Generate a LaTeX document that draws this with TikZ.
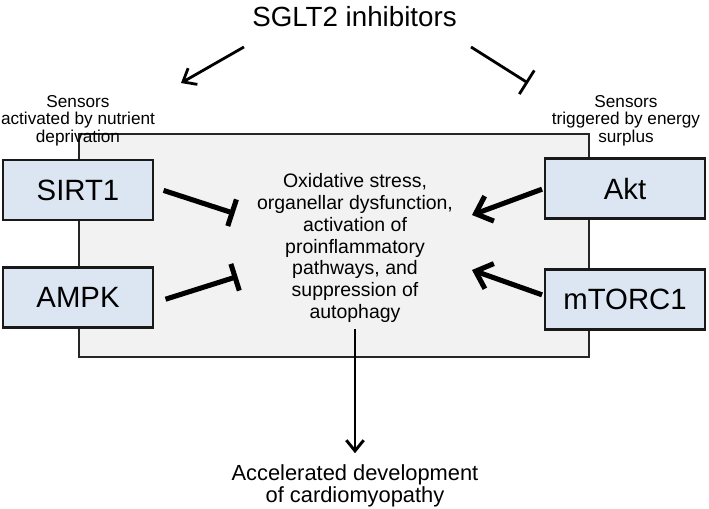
\documentclass[tikz,border=0pt]{standalone}
\usepackage{fontspec}
\setmainfont{Liberation Sans}
\usetikzlibrary{arrows.meta}

\definecolor{sensorblue}{HTML}{DCE6F2}
\definecolor{panelgray}{HTML}{F2F2F2}

\begin{document}
\begin{tikzpicture}[x=0.75pt,y=-0.75pt,
  sensor/.style={draw=black!90,line width=1.6pt,fill=sensorblue,minimum height=45pt,
    inner sep=0pt,font=\fontsize{22}{26}\selectfont},
  note/.style={align=center,inner sep=0pt,font=\fontsize{12.9}{13.1}\selectfont},
  blocker/.style={line width=3.8pt,-{Bar[width=21pt]}},
  driver/.style={line width=3.8pt,-{Straight Barb[length=11pt,width=20pt]}},
  drug/.style={line width=2.1pt}]
\useasboundingbox (0,0) rectangle (709,509);

\draw[draw=black!85,line width=1.5pt,fill=panelgray] (79,134) rectangle (589,357);

\node[anchor=base,inner sep=0pt,font=\fontsize{20.8}{24}\selectfont] (title) at (354.5,27) {SGLT2 inhibitors};

\node[note] (nutrient) at (78,120.5) {Sensors\\activated by nutrient\\deprivation};
\node[note] (surplus) at (626,120.5) {Sensors\\triggered by energy\\surplus};

\node[sensor,minimum width=112.5pt] (sirt) at (78,190) {SIRT1};
\node[sensor,minimum width=112.5pt] (ampk) at (78,297.5) {AMPK};
\node[sensor,minimum width=120pt] (akt) at (625,188.5) {Akt};
\node[sensor,minimum width=120pt] (mtorc) at (625,299.5) {mTORC1};

\node[align=center,inner sep=0pt,font=\fontsize{14.6}{16.3}\selectfont] (effects) at (355,248)
  {Oxidative stress,\\organellar dysfunction,\\activation of\\proinflammatory\\pathways, and\\suppression of\\autophagy};
\node[align=center,inner sep=0pt,font=\fontsize{16.4}{16.5}\selectfont] (outcome) at (355,486)
  {Accelerated development\\of cardiomyopathy};

\coordinate (actTip) at (181,83);
\coordinate (inhTip) at (528,83);
\coordinate (sirtBar) at (234.5,213.5);
\coordinate (ampkBar) at (237.5,276.5);
\coordinate (aktTip) at (472,215);
\coordinate (mtorcTip) at (472,270);

\draw[drug,-{Straight Barb[length=8.5pt,width=14pt]}] ([shift={(-8,20)}]title.base west) -- (actTip);
\draw[drug,-{Bar[width=21pt]}] ([shift={(14,20)}]title.base east) -- (inhTip);

\draw[blocker,shorten <=7.5pt] ([yshift=2pt]sirt.east) -- (sirtBar);
\draw[blocker,shorten <=9pt] ([yshift=-4pt]ampk.east) -- (ampkBar);
\draw[driver,shorten <=1.5pt] (akt.west) -- (aktTip);
\draw[driver,shorten <=1.5pt] ([yshift=3pt]mtorc.west) -- (mtorcTip);

\draw[line width=2.2pt,-{Straight Barb[length=8pt,width=13pt]},shorten <=5pt,shorten >=8.5pt] (effects.south) -- (outcome.north);
\end{tikzpicture}
\end{document}
